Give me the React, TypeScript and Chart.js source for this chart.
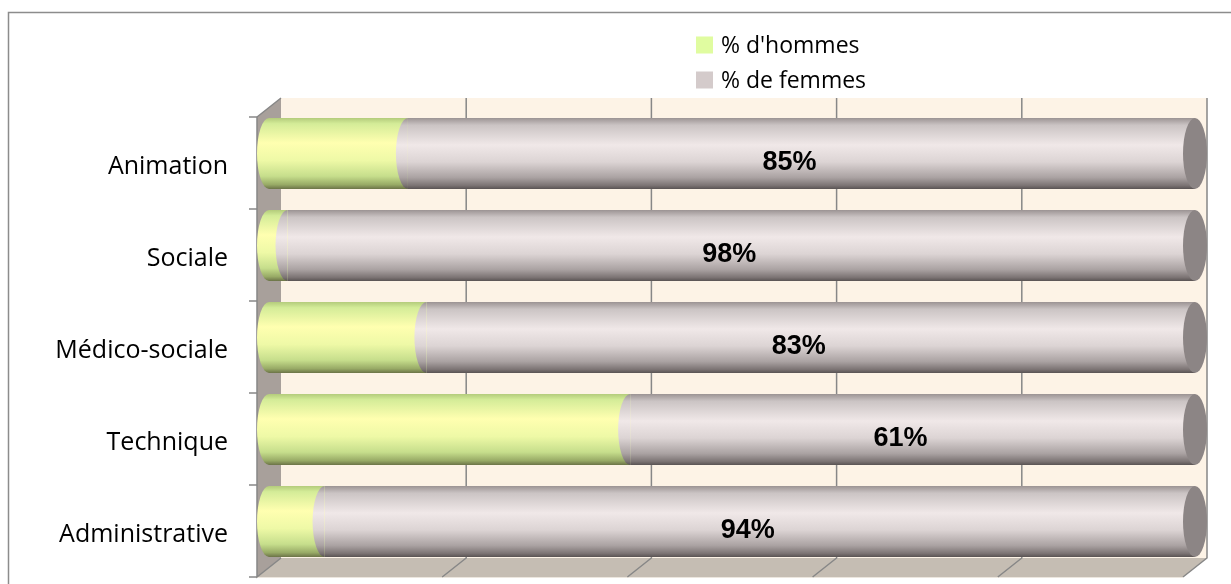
import React, { useEffect, useRef } from "react";
import { Chart, registerables } from "chart.js";

Chart.register(...registerables);

const categories = ["Animation", "Sociale", "Médico-sociale", "Technique", "Administrative"];
const menPct = [15, 2, 17, 39, 6];
const womenPct = [85, 98, 83, 61, 94];
const seriesNames = ["% d'hommes", "% de femmes"];
const legendColors = ["#e0fca0", "#d4cbcb"];
const xTicks = [0, 20, 40, 60, 80, 100];

const DX = 12;
const DY = 9.5;
const BAR_PCT = 0.77;
const FONT = "'Open Sans', Lato, sans-serif";

const greenStops: [number, string][] = [
  [0, "#b4cc7c"], [0.08, "#d4ec98"], [0.35, "#ffffb0"], [0.6, "#eef9a6"],
  [0.82, "#c6de8c"], [0.94, "#98aa66"], [1, "#6c7448"],
];
const grayStops: [number, string][] = [
  [0, "#9c9494"], [0.1, "#cbc4c4"], [0.38, "#f0e8e8"], [0.62, "#dcd4d4"],
  [0.84, "#aaa2a2"], [0.95, "#7c7474"], [1, "#5a5454"],
];

function makeGrad(ctx: CanvasRenderingContext2D, top: number, bottom: number, stops: [number, string][]) {
  const g = ctx.createLinearGradient(0, top, 0, bottom);
  stops.forEach(([o, c]) => g.addColorStop(o, c));
  return g;
}

function barFill(stops: [number, string][], fallback: string) {
  return (c: any) => {
    const chart = c.chart;
    if (!chart.chartArea || !chart.scales.y) return fallback;
    const y = chart.scales.y;
    const band = (chart.chartArea.bottom - chart.chartArea.top) / categories.length;
    const yc = y.getPixelForValue(c.dataIndex);
    const h = band * BAR_PCT;
    return makeGrad(chart.ctx, yc - h / 2, yc + h / 2, stops);
  };
}

const scenePlugin = {
  id: "scene",
  beforeDraw(chart: any) {
    const { ctx, chartArea } = chart;
    const xs = chart.scales.x;
    const ys = chart.scales.y;
    ctx.save();
    ctx.fillStyle = "#ffffff";
    ctx.fillRect(0, 0, chart.width, chart.height);
    // outer frame
    ctx.strokeStyle = "#8c8c8c";
    ctx.lineWidth = 1.5;
    ctx.beginPath();
    ctx.moveTo(8.5, chart.height + 2);
    ctx.lineTo(8.5, 12.5);
    ctx.lineTo(chart.width + 2, 12.5);
    ctx.stroke();

    const x0 = xs.getPixelForValue(0);
    const x1 = xs.getPixelForValue(100);
    const fTop = chartArea.top + DY, fBot = chartArea.bottom + DY;
    const bTop = chartArea.top - DY, bBot = chartArea.bottom - DY;
    const fx0 = x0 - DX, fx1 = x1 - DX, bx0 = x0 + DX, bx1 = x1 + DX;

    // back wall
    ctx.fillStyle = "#fdf3e6";
    ctx.fillRect(bx0, bTop, bx1 - bx0, bBot - bTop);
    // side wall
    ctx.fillStyle = "#a8a09b";
    ctx.beginPath();
    ctx.moveTo(fx0, fTop); ctx.lineTo(bx0, bTop); ctx.lineTo(bx0, bBot); ctx.lineTo(fx0, fBot);
    ctx.closePath(); ctx.fill();
    // floor
    ctx.fillStyle = "#c5bdb3";
    ctx.beginPath();
    ctx.moveTo(fx0, fBot); ctx.lineTo(bx0, bBot); ctx.lineTo(bx1, bBot); ctx.lineTo(fx1, fBot);
    ctx.closePath(); ctx.fill();
    ctx.strokeStyle = "#ece6de";
    ctx.lineWidth = 1;
    ctx.beginPath(); ctx.moveTo(fx0, fBot + 0.5); ctx.lineTo(fx1, fBot + 0.5); ctx.stroke();

    // gridlines
    ctx.strokeStyle = "#878787";
    ctx.lineWidth = 1.5;
    xTicks.forEach((v) => {
      if (v === 0) return;
      const px = xs.getPixelForValue(v);
      ctx.beginPath();
      ctx.moveTo(px + DX, bTop);
      ctx.lineTo(px + DX, bBot);
      ctx.lineTo(px - DX, fBot);
      ctx.stroke();
    });
    // left axis
    ctx.beginPath();
    ctx.moveTo(fx0, fTop); ctx.lineTo(bx0, bTop);
    ctx.moveTo(fx0, fTop); ctx.lineTo(fx0, fBot); ctx.lineTo(bx0, bBot);
    ctx.stroke();
    const band = (chartArea.bottom - chartArea.top) / categories.length;
    for (let i = 0; i <= categories.length; i++) {
      const ty = fTop + i * band;
      ctx.beginPath(); ctx.moveTo(fx0 - 8, ty); ctx.lineTo(fx0, ty); ctx.stroke();
    }
    // category labels (front face)
    ctx.fillStyle = "#000000";
    ctx.font = "25px " + FONT;
    ctx.textAlign = "right";
    ctx.textBaseline = "middle";
    categories.forEach((c, i) => {
      ctx.fillText(c, fx0 - 29, ys.getPixelForValue(i) + DY + 4);
    });
    ctx.restore();
  },
  afterDatasetsDraw(chart: any) {
    const { ctx } = chart;
    const xs = chart.scales.x;
    const xEnd = xs.getPixelForValue(100);
    const metas = [chart.getDatasetMeta(0), chart.getDatasetMeta(1)];
    const stopsList = [greenStops, grayStops];
    ctx.save();
    metas.forEach((meta: any, di: number) => {
      meta.data.forEach((bar: any) => {
        const { y, base, height } = bar.getProps(["y", "base", "height"], true);
        const top = y - height / 2, bot = y + height / 2;
        ctx.fillStyle = makeGrad(ctx, top, bot, stopsList[di]);
        ctx.beginPath();
        ctx.ellipse(base, y, DX, height / 2, 0, Math.PI / 2, Math.PI * 1.5);
        ctx.closePath();
        ctx.fill();
      });
    });
    // right caps
    metas[1].data.forEach((bar: any) => {
      const { y, height } = bar.getProps(["y", "height"], true);
      ctx.fillStyle = "#8c8585";
      ctx.beginPath();
      ctx.ellipse(xEnd, y, DX, height / 2, 0, 0, Math.PI * 2);
      ctx.fill();
    });
    // value labels for women
    ctx.fillStyle = "#000000";
    ctx.font = "bold 27px 'Liberation Sans', Arial, sans-serif";
    ctx.textAlign = "center";
    ctx.textBaseline = "middle";
    metas[1].data.forEach((bar: any, i: number) => {
      const { x, y, base } = bar.getProps(["x", "y", "base"], true);
      ctx.fillText(womenPct[i] + "%", (x + base) / 2 - DX, y + DY);
    });
    ctx.restore();
  },
  afterDraw(chart: any) {
    const { ctx } = chart;
    ctx.save();
    ctx.font = "23px " + FONT;
    ctx.textAlign = "left";
    ctx.textBaseline = "middle";
    seriesNames.forEach((name, i) => {
      const yc = 45 + i * 35;
      ctx.fillStyle = legendColors[i];
      ctx.fillRect(696, yc - 8.5, 17, 17);
      ctx.fillStyle = "#000000";
      ctx.fillText(name, 721, yc + 1);
    });
    ctx.restore();
  },
};

export default function App() {
  const ref = useRef<HTMLCanvasElement>(null);
  useEffect(() => {
    document.body.style.margin = "0";
    const canvas = ref.current!;
    const chart = new Chart(canvas, {
      type: "bar",
      data: {
        labels: categories,
        datasets: [
          { label: seriesNames[0], data: menPct, backgroundColor: barFill(greenStops, legendColors[0]), borderWidth: 0, barPercentage: BAR_PCT, categoryPercentage: 1 },
          { label: seriesNames[1], data: womenPct, backgroundColor: barFill(grayStops, legendColors[1]), borderWidth: 0, barPercentage: BAR_PCT, categoryPercentage: 1 },
        ],
      },
      options: {
        indexAxis: "y",
        animation: false,
        responsive: false,
        maintainAspectRatio: false,
        layout: { padding: { top: 107.5, bottom: 16.5, left: 269, right: 36 } },
        plugins: { legend: { display: false }, tooltip: { enabled: false } },
        scales: {
          x: { stacked: true, min: 0, max: 100, display: false },
          y: { stacked: true, display: false },
        },
      },
      plugins: [scenePlugin],
    });
    return () => chart.destroy();
  }, []);
  return (
    <div style={{ width: 1231, height: 584 }}>
      <canvas ref={ref} width={1231} height={584} style={{ display: "block" }} />
    </div>
  );
}
